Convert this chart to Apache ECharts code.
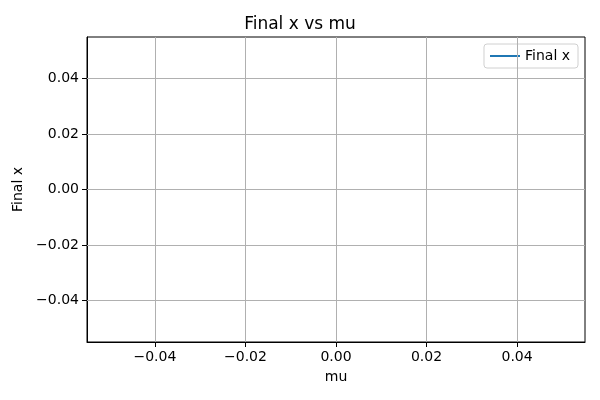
<!DOCTYPE html>
<html>
<head>
<meta charset="utf-8" />
<title>Final x vs mu</title>
<script src="https://cdn.jsdelivr.net/npm/echarts@6/dist/echarts.min.js"></script>
<style>
  html, body { margin: 0; padding: 0; background: #fff; }
  #main { width: 600px; height: 400px; }
</style>
</head>
<body>
<div id="main"></div>
<script>
// data (the run gave no points, so the series is empty)
var muValues = [];
var finalX = [];
var xTicks = [-0.04, -0.02, 0.00, 0.02, 0.04];
var yTicks = [-0.04, -0.02, 0.00, 0.02, 0.04];

var font = "DejaVu Sans";
var chart = echarts.init(document.getElementById("main"));

function fmt(v) {
  var s = v.toFixed(2);
  return s.charAt(0) == "-" ? "\u2212" + s.slice(1) : s;
}

var points = [];
for (var i = 0; i < muValues.length; i++) {
  points.push([muValues[i], finalX[i]]);
}

// grid lines at tick positions
var gridLines = [];
xTicks.forEach(function(v) { gridLines.push({ xAxis: v }); });
yTicks.forEach(function(v) { gridLines.push({ yAxis: v }); });

var option = {
  animation: false,
  title: {
    text: "Final x vs mu",
    left: "center",
    top: 11,
    textStyle: { fontFamily: font, fontSize: 17, fontWeight: "normal", color: "#000" }
  },
  legend: {
    right: 22,
    top: 44,
    data: [{ name: "Final x", icon: "rect" }],
    itemWidth: 30,
    itemHeight: 2,
    itemGap: 10,
    padding: [5, 8, 5, 6],
    borderColor: "#d0d0d0",
    borderWidth: 1,
    borderRadius: 3,
    textStyle: { fontFamily: font, fontSize: 14, color: "#000" }
  },
  grid: {
    left: 87,
    right: 15,
    top: 37,
    bottom: 58,
    show: true,
    borderColor: "#000",
    borderWidth: 1
  },
  xAxis: {
    type: "value",
    min: -0.055,
    max: 0.055,
    name: "mu",
    nameLocation: "middle",
    nameGap: 28,
    nameTextStyle: { fontFamily: font, fontSize: 14, color: "#000" },
    axisLine: { show: true, onZero: false, lineStyle: { color: "#000" } },
    axisTick: { show: true, customValues: xTicks, length: 5, lineStyle: { color: "#000" } },
    axisLabel: {
      customValues: xTicks,
      formatter: fmt,
      margin: 8,
      fontFamily: font, fontSize: 14, color: "#000"
    },
    splitLine: { show: false }
  },
  yAxis: {
    type: "value",
    min: -0.055,
    max: 0.055,
    name: "Final x",
    nameLocation: "middle",
    nameGap: 57,
    nameTextStyle: { fontFamily: font, fontSize: 14, color: "#000" },
    axisLine: { show: true, onZero: false, lineStyle: { color: "#000" } },
    axisTick: { show: true, customValues: yTicks, length: 5, lineStyle: { color: "#000" } },
    axisLabel: {
      customValues: yTicks,
      formatter: fmt,
      margin: 8,
      fontFamily: font, fontSize: 14, color: "#000"
    },
    splitLine: { show: false }
  },
  series: [{
    name: "Final x",
    type: "line",
    data: points,
    showSymbol: false,
    itemStyle: { color: "#1f77b4" },
    lineStyle: { color: "#1f77b4", width: 1.5 },
    markLine: {
      silent: true,
      symbol: "none",
      label: { show: false },
      lineStyle: { color: "#b0b0b0", width: 1, type: "solid" },
      data: gridLines
    }
  }]
};
chart.setOption(option);
</script>
</body>
</html>
